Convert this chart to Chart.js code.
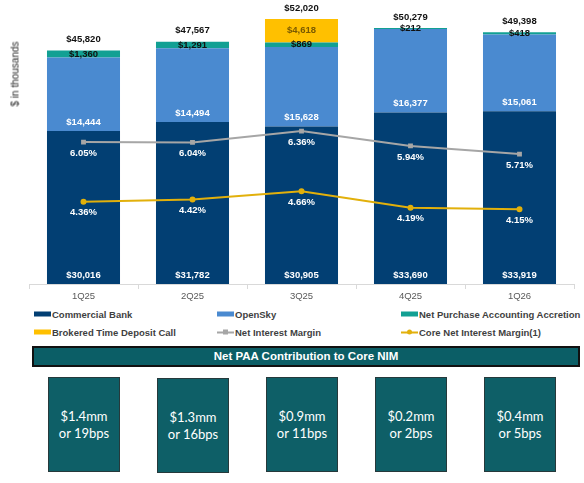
<!DOCTYPE html>
<html>
<head>
<meta charset="utf-8">
<script src="https://cdn.jsdelivr.net/npm/chart.js@4.4.1/dist/chart.umd.min.js"></script>
<style>
  body { margin: 0; background: #fff; font-family: "Liberation Sans", Arial, sans-serif; }
  #wrap { position: relative; width: 584px; height: 483px; overflow: hidden; }
  #chartBox { position: absolute; left: 0; top: 0; width: 584px; height: 305px; }
  #yTitle { position: absolute; left: 15px; top: 74px; transform: translate(-50%, -50%) rotate(-90deg); font-size: 10px; font-weight: normal; color: #262626; white-space: nowrap; }
  .lg { position: absolute; display: flex; align-items: center; font-size: 9.5px; font-weight: bold; color: #3f3f3f; white-space: nowrap; transform: translateY(-50%); }
  .sw { width: 17px; height: 5px; margin-right: 1px; }
  .ln { position: relative; width: 17px; height: 2px; margin-right: 1px; }
  .ln i { position: absolute; left: 6px; top: -1.5px; width: 5px; height: 5px; }
  #banner { position: absolute; left: 32px; top: 346px; width: 544px; height: 17px; background: #0b5e66; border: 2px solid #111; color: #fff; font-weight: bold; font-size: 11.5px; text-align: center; line-height: 17px; }
  .box { position: absolute; width: 70px; height: 93px; background: #0e5f67; border: 1px solid #26393b; color: #fff; font-family: Lato, "Open Sans", sans-serif; font-size: 13px; line-height: 17px; display: flex; align-items: center; justify-content: center; text-align: center; }
</style>
</head>
<body>
<div id="wrap">
  <div id="chartBox"><canvas id="nimChart"></canvas></div>
  <div id="yTitle">$ in thousands</div>
  <div id="legend"></div>
  <div id="banner">Net PAA Contribution to Core NIM</div>
  <div id="boxes"></div>
</div>
<script>
const quarters = ["1Q25", "2Q25", "3Q25", "4Q25", "1Q26"];
const commercialBank = [30016, 31782, 30905, 33690, 33919];
const openSky = [14444, 14494, 15628, 16377, 15061];
const netPaa = [1360, 1291, 869, 212, 418];
const brokeredCall = [null, null, 4618, null, null];
const nim = [6.05, 6.04, 6.36, 5.94, 5.71];
const coreNim = [4.36, 4.42, 4.66, 4.19, 4.15];
const paaContribution = [
  ["$1.4mm", "or 19bps"],
  ["$1.3mm", "or 16bps"],
  ["$0.9mm", "or 11bps"],
  ["$0.2mm", "or 2bps"],
  ["$0.4mm", "or 5bps"],
];

const money = (v) => "$" + v.toLocaleString("en-US");

Chart.defaults.font.family = "'Liberation Sans', Arial, sans-serif";

// draws the value labels (no datalabels plugin available)
const valueLabels = {
  id: "valueLabels",
  afterDatasetsDraw(chart) {
    const { ctx } = chart;
    ctx.save();
    ctx.font = "bold 9.5px 'Liberation Sans', Arial, sans-serif";
    ctx.textAlign = "center";
    ctx.textBaseline = "middle";
    const tops = [];
    chart.data.datasets.forEach((ds, i) => {
      const meta = chart.getDatasetMeta(i);
      meta.data.forEach((el, j) => {
        const v = ds.data[j];
        if (v == null) return;
        let y;
        if (ds.type === "line") {
          y = el.y + 11;
        } else {
          y = ds.labelAt === "base" ? el.base - 9 : (el.y + el.base) / 2;
          tops[j] = Math.min(tops[j] ?? Infinity, el.y);
        }
        ctx.fillStyle = ds.labelColor;
        ctx.fillText(ds.type === "line" ? v.toFixed(2) + "%" : money(v), el.x, y);
      });
    });
    // stack totals above each bar
    ctx.fillStyle = "#111";
    const xs = chart.scales.x;
    quarters.forEach((q, j) => {
      const total = [commercialBank, openSky, netPaa, brokeredCall].reduce((s, a) => s + (a[j] || 0), 0);
      ctx.fillText(money(total), xs.getPixelForValue(j), tops[j] - 11);
    });
    ctx.restore();
  },
};

const chart = new Chart(document.getElementById("nimChart"), {
  type: "bar",
  data: {
    labels: quarters,
    datasets: [
      { label: "Commercial Bank", data: commercialBank, backgroundColor: "#023f73", labelColor: "#fff", labelAt: "base", order: 2 },
      { label: "OpenSky", data: openSky, backgroundColor: "#4a8ad0", labelColor: "#fff", labelAt: "base", order: 2 },
      { label: "Net Purchase Accounting Accretion", data: netPaa, backgroundColor: "#12a093", labelColor: "#111", order: 2 },
      { label: "Brokered Time Deposit Call", data: brokeredCall, backgroundColor: "#ffc000", labelColor: "#7a5a00", order: 2 },
      {
        type: "line", label: "Net Interest Margin", data: nim, yAxisID: "y1", order: 0,
        borderColor: "#a6a6a6", backgroundColor: "#a6a6a6", borderWidth: 2,
        pointStyle: "rect", pointRadius: 2, labelColor: "#fff",
      },
      {
        type: "line", label: "Core Net Interest Margin(1)", data: coreNim, yAxisID: "y1", order: 0,
        borderColor: "#e2b00b", backgroundColor: "#e2b00b", borderWidth: 2,
        pointRadius: 2, labelColor: "#fff",
      },
    ],
  },
  options: {
    responsive: true,
    maintainAspectRatio: false,
    animation: false,
    layout: { padding: { left: 29, right: 10, top: 10, bottom: 0.6 } },
    datasets: { bar: { categoryPercentage: 1, barPercentage: 0.67 } },
    plugins: { legend: { display: false }, tooltip: { enabled: false } },
    scales: {
      x: {
        stacked: true,
        grid: { drawOnChartArea: false, offset: true, tickLength: 5, color: "#d9d9d9" },
        border: { color: "#d9d9d9" },
        ticks: { color: "#595959", font: { size: 9.5 }, padding: 2 },
      },
      y: { stacked: true, display: false, min: 0, max: 53790 },
      y1: { display: false, min: 2.03, max: 9.79 },
    },
  },
  plugins: [valueLabels],
});

// legend laid out in three columns like the slide
const legendCols = [34, 217, 401];
const legendRows = [314, 332];
const legendEl = document.getElementById("legend");
chart.data.datasets.forEach((ds, i) => {
  const item = document.createElement("div");
  item.className = "lg";
  item.style.left = legendCols[i % 3] + "px";
  item.style.top = legendRows[Math.floor(i / 3)] + "px";
  const mark = ds.type === "line"
    ? `<span class="ln" style="background:${ds.borderColor}"><i style="background:${ds.borderColor};${ds.pointStyle === "rect" ? "" : "border-radius:50%"}"></i></span>`
    : `<span class="sw" style="background:${ds.backgroundColor}"></span>`;
  item.innerHTML = mark + ds.label;
  legendEl.appendChild(item);
});

// PAA boxes under each quarter
const boxesEl = document.getElementById("boxes");
paaContribution.forEach((lines, i) => {
  const b = document.createElement("div");
  b.className = "box";
  b.style.left = Math.round(chart.scales.x.getPixelForValue(i) - 36) + "px";
  b.style.top = (i === 1 ? 378 : 377) + "px";
  b.innerHTML = lines.join("<br>");
  boxesEl.appendChild(b);
});
</script>
</body>
</html>
